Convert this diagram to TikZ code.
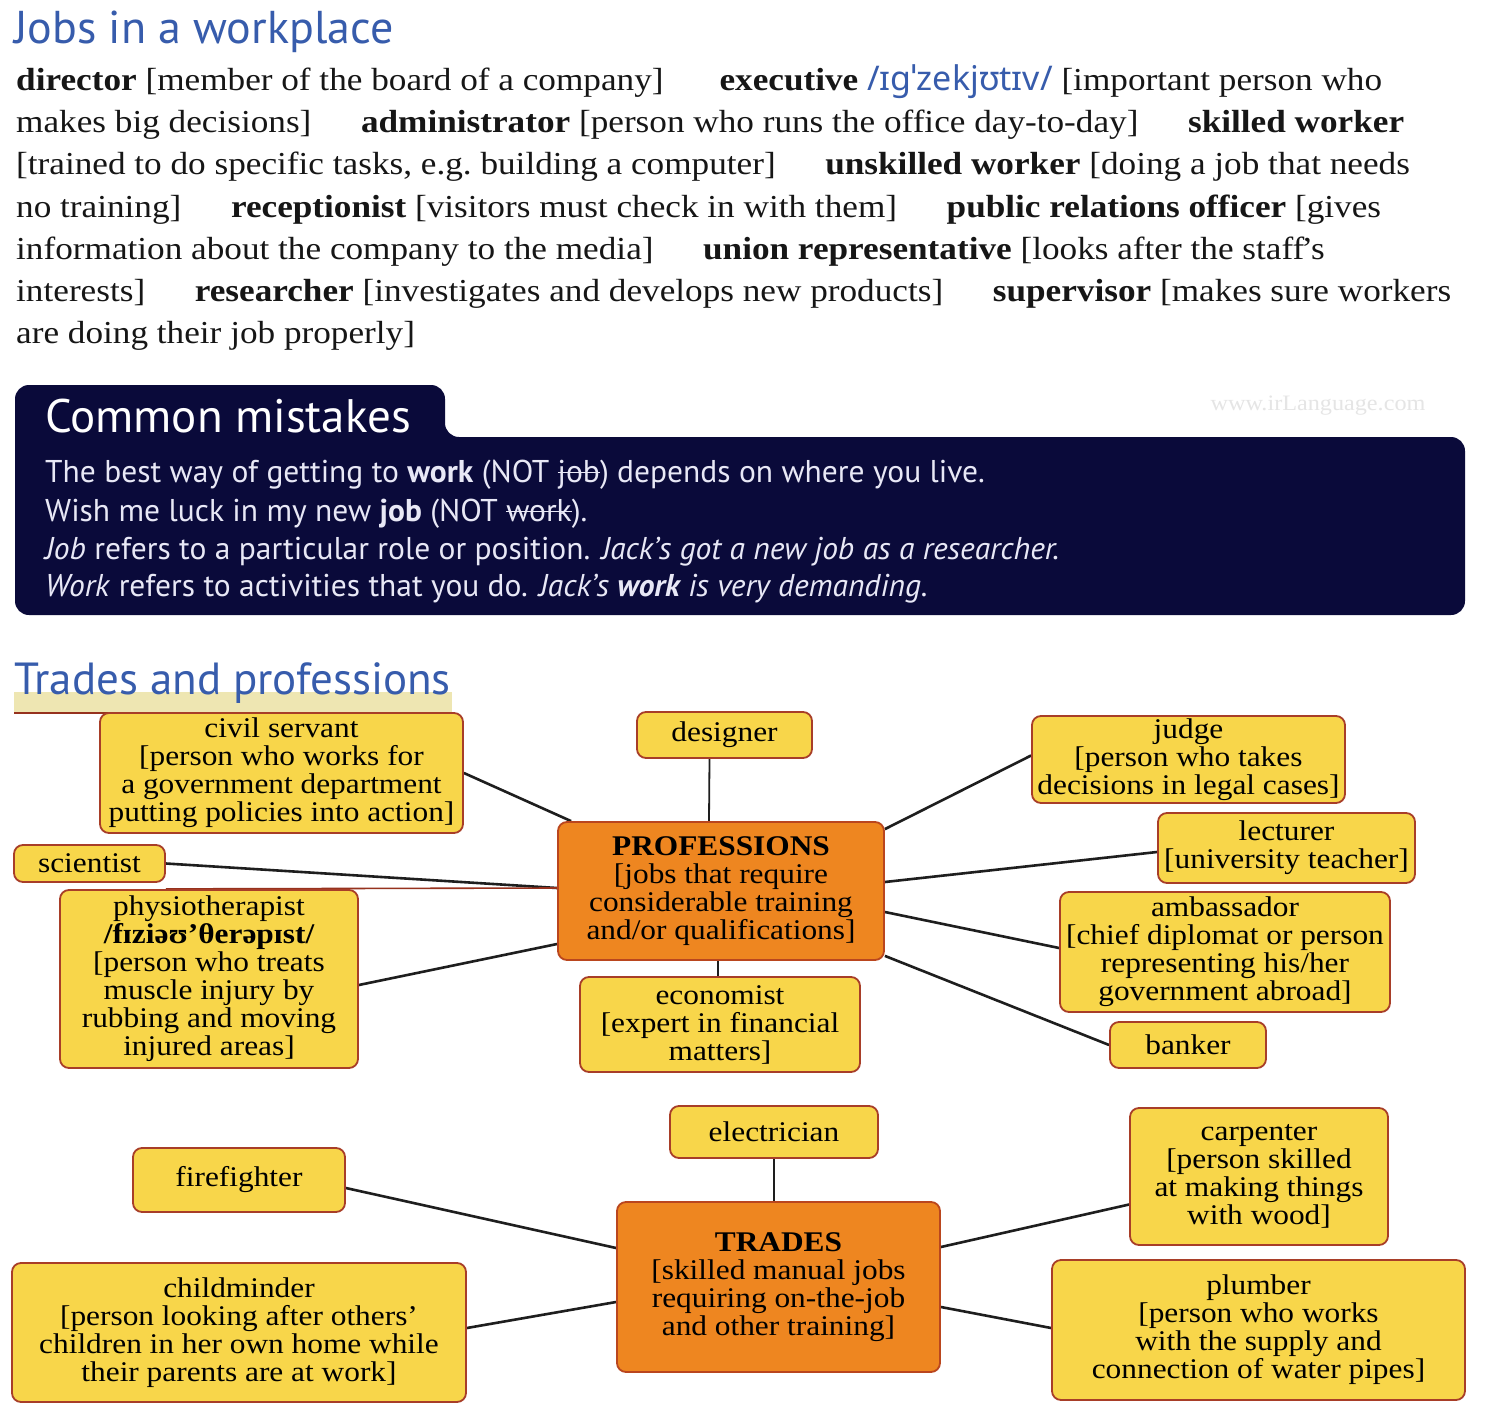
\documentclass[tikz,border=0pt]{standalone}
\usepackage{fontspec}
\usetikzlibrary{backgrounds}
\setmainfont{Liberation Serif}[FakeStretch=1.1]
\newfontfamily\headfont{PT Sans}
\newfontfamily\notefont{PT Sans}
\newfontfamily\ipafont{Noto Sans}
\newfontfamily\boxfont{Liberation Serif}[FakeStretch=1.1]

\definecolor{titleblue}{RGB}{55,92,172}
\definecolor{navy}{RGB}{10,10,58}
\definecolor{notetext}{RGB}{232,232,246}
\definecolor{boxfill}{RGB}{248,214,74}
\definecolor{boxedge}{RGB}{168,62,40}
\definecolor{orangefill}{RGB}{238,134,32}
\definecolor{orangeedge}{RGB}{186,70,30}
\definecolor{barbeige}{RGB}{238,230,178}
\definecolor{rulered}{RGB}{150,50,30}
\definecolor{linkcol}{RGB}{30,30,30}
\definecolor{bodytext}{RGB}{22,22,22}

\newcommand\entrygap{\hspace{1.55em}\ignorespaces}
\newsavebox\strikebox
\newcommand\strikeword[1]{\sbox\strikebox{#1}\rlap{\rule[0.28em]{\wd\strikebox}{1.4pt}}\usebox\strikebox}

\tikzset{
  bodyline/.style={anchor=base west, inner sep=0pt, text=bodytext,
    font=\fontsize{32pt}{42pt}\selectfont},
  noteline/.style={anchor=base west, inner sep=0pt, text=notetext,
    font=\notefont\fontsize{31.5pt}{38pt}\selectfont},
  heading/.style={anchor=base west, inner sep=0pt, text=titleblue,
    font=\headfont\fontsize{46pt}{46pt}\selectfont},
  ybox/.style={draw=boxedge, line width=1.8pt, fill=boxfill, rounded corners=9pt,
    align=center, inner sep=2pt, text=black,
    font=\boxfont\fontsize{28.5pt}{28pt}\selectfont},
  obox/.style={ybox, fill=orangefill, draw=orangeedge},
  link/.style={draw=linkcol, line width=2.6pt},
  thinlink/.style={draw=linkcol, line width=1.8pt},
}

\begin{document}
\begin{tikzpicture}[x=1pt,y=-1pt]
\useasboundingbox (0,0) rectangle (1486,1418);
\begin{pgfonlayer}{background}
  \fill[white] (0,0) rectangle (1486,1418);
\end{pgfonlayer}

% ---------- Jobs in a workplace ----------
\node[heading] (jobstitle) at (14,44) {Jobs in a workplace};

\node[bodyline] (l1) at (16,91) {\textbf{director} [member of the board of a company]\hspace{1.75em}\textbf{executive} {\ipafont\color{titleblue}\fontsize{34pt}{34pt}\selectfont /ɪgˈzekjʊtɪv/} [important person who};
\node[bodyline] (l2) at (16,133) {makes big decisions]\entrygap \textbf{administrator} [person who runs the office day-to-day]\entrygap \textbf{skilled worker}};
\node[bodyline] (l3) at (16,175) {[trained to do specific tasks, e.g.\ building a computer]\entrygap \textbf{unskilled worker} [doing a job that needs};
\node[bodyline] (l4) at (16,217) {no training]\entrygap \textbf{receptionist} [visitors must check in with them]\entrygap \textbf{public relations officer} [gives};
\node[bodyline] (l5) at (16,259) {information about the company to the media]\entrygap \textbf{union representative} [looks after the staff\kern-3pt’s};
\node[bodyline] (l6) at (16,301) {interests]\entrygap \textbf{researcher} [investigates and develops new products]\entrygap \textbf{supervisor} [makes sure workers};
\node[bodyline] (l7) at (16,343) {are doing their job properly]};

% ---------- Common mistakes panel ----------
\fill[navy, rounded corners=14pt] (15,615) -- (15,385) -- (445,385) -- (445,437) -- (1465,437) -- (1465,615) -- cycle;
\node[anchor=base west, inner sep=0pt, text=white, font=\notefont\fontsize{47pt}{47pt}\selectfont] (cmtitle) at (45,432) {Common mistakes};
\node[anchor=center, inner sep=0pt, text=black!10, font=\boxfont\fontsize{22pt}{22pt}\selectfont] (mark) at (1318,406) {www.irLanguage.com};

\node[noteline] (m1) at (45,482) {The best way of getting to \textbf{work} (NOT \strikeword{job}) depends on where you live.};
\node[noteline] (m2) at (45,521) {Wish me luck in my new \textbf{job} (NOT \strikeword{work}).};
\node[noteline] (m3) at (45,559) {\textit{Job} refers to a particular role or position. \textit{Jack’s got a new job as a researcher.}};
\node[noteline] (m4) at (45,596) {\textit{Work} refers to activities that you do. \textit{Jack’s \textbf{work} is very demanding.}};

% ---------- Trades and professions ----------
\fill[barbeige] (14,692) rectangle (452,712);
\draw[rulered, line width=1.6pt] (14,713) -- (452,713);
\node[heading, font=\headfont\fontsize{45pt}{45pt}\selectfont] (tptitle) at (14,694) {Trades and professions};

% professions cluster
\node[obox, minimum width=326pt, minimum height=138pt] (prof) at (721,891)
  {\textbf{PROFESSIONS}\\{[}jobs that require\\considerable training\\and/or qualifications{]}};
\node[ybox, minimum width=363pt, minimum height=120pt] (civil) at (281.5,773)
  {civil servant\\{[}person who works for\\a government department\\putting policies into action{]}};
\node[ybox, minimum width=175pt, minimum height=46pt] (designer) at (724.5,735) {designer};
\node[ybox, minimum width=313pt, minimum height=87pt] (judge) at (1188.5,759.5)
  {judge\\{[}person who takes\\decisions in legal cases{]}};
\node[ybox, minimum width=151pt, minimum height=37pt] (scientist) at (89.5,863.5) {scientist};
\node[ybox, minimum width=257pt, minimum height=70pt] (lecturer) at (1286.5,848)
  {lecturer\\{[}university teacher{]}};
\node[ybox, minimum width=298pt, minimum height=178pt] (physio) at (209,979)
  {physiotherapist\\{\bfseries /fɪziəʊ’θerəpɪst/}\\{[}person who treats\\muscle injury by\\rubbing and moving\\injured areas{]}};
\node[ybox, minimum width=330pt, minimum height=120pt] (ambassador) at (1225,952)
  {ambassador\\{[}chief diplomat or person\\representing his/her\\government abroad{]}};
\node[ybox, minimum width=280pt, minimum height=95pt] (economist) at (720,1024.5)
  {economist\\{[}expert in financial\\matters{]}};
\node[ybox, minimum width=156pt, minimum height=46pt] (banker) at (1188,1045) {banker};

% trades cluster
\node[obox, minimum width=323pt, minimum height=170pt] (trades) at (778.5,1287)
  {\textbf{TRADES}\\{[}skilled manual jobs\\requiring on-the-job\\and other training{]}};
\node[ybox, minimum width=208pt, minimum height=52pt] (electrician) at (774,1132) {electrician};
\node[ybox, minimum width=212pt, minimum height=64pt] (firefighter) at (239,1180) {firefighter};
\node[ybox, minimum width=258pt, minimum height=137pt] (carpenter) at (1259,1176.5)
  {carpenter\\{[}person skilled\\at making things\\with wood{]}};
\node[ybox, minimum width=454pt, minimum height=139pt] (childminder) at (239,1332.5)
  {childminder\\{[}person looking after others’\\children in her own home while\\their parents are at work{]}};
\node[ybox, minimum width=413pt, minimum height=140pt] (plumber) at (1258.5,1330)
  {plumber\\{[}person who works\\with the supply and\\connection of water pipes{]}};

% connectors, drawn beneath the boxes
\begin{pgfonlayer}{background}
  \draw[link] (civil.east) -- ([xshift=14pt]prof.north west);
  \draw[thinlink] ([xshift=-15pt]designer.south) -- ([xshift=-12pt]prof.north);
  \draw[link] ([yshift=4pt]judge.west) -- ([yshift=-8pt]prof.north east);
  \draw[link] (scientist.east) -- ([yshift=3pt]prof.west);
  \draw[rulered, line width=1.6pt] ([yshift=-6pt]scientist.south east) -- ([yshift=3pt]prof.west);
  \draw[link] ([yshift=-6pt]physio.east) -- ([yshift=-53pt]prof.west);
  \draw[thinlink] ([xshift=-2pt]economist.north) -- ([xshift=-3pt]prof.south);
  \draw[link] ([yshift=-4pt]lecturer.west) -- ([yshift=9pt]prof.east);
  \draw[link] ([yshift=4pt]ambassador.west) -- ([yshift=-21pt]prof.east);
  \draw[link] (banker.west) -- ([yshift=5pt]prof.south east);

  \draw[thinlink] (electrician.south) -- (electrician.south |- trades.north);
  \draw[link] ([yshift=-8pt]firefighter.east) -- ([yshift=39pt]trades.west);
  \draw[link] ([yshift=4.5pt]childminder.east) -- ([yshift=-15pt]trades.west);
  \draw[link] ([yshift=-28pt]carpenter.west) -- ([yshift=40pt]trades.east);
  \draw[link] ([yshift=2pt]plumber.west) -- ([yshift=-20pt]trades.east);
\end{pgfonlayer}
\end{tikzpicture}
\end{document}
